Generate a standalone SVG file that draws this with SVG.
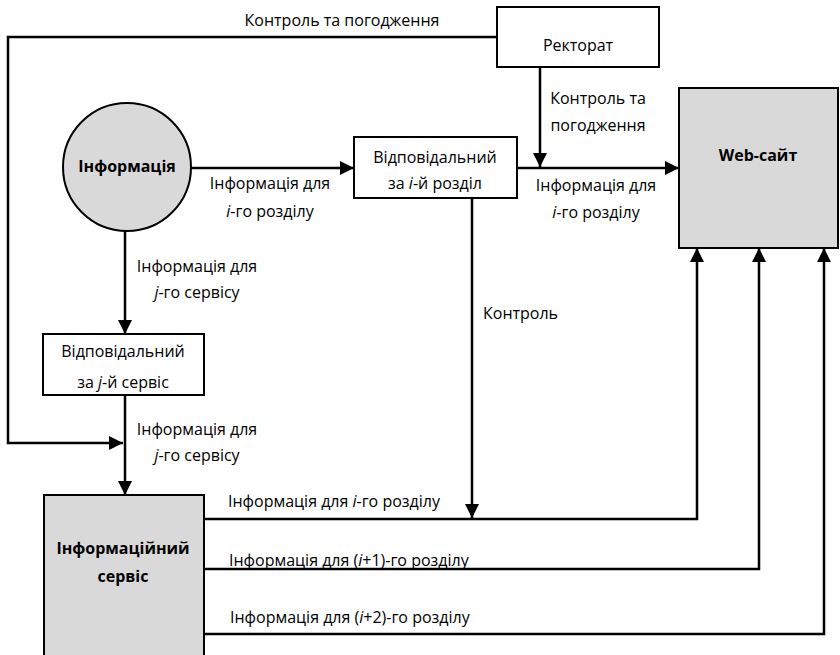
<svg xmlns="http://www.w3.org/2000/svg" width="840" height="655" viewBox="0 0 840 655">
<style>
text{font-family:"Open Sans","Noto Sans","DejaVu Sans",sans-serif;font-size:16px;fill:#000}
.b{font-weight:bold}
.m{text-anchor:middle}
.box{fill:#fff;stroke:#000;stroke-width:2}
.gray{fill:#d9d9d9;stroke:#000;stroke-width:2}
.ln{fill:none;stroke:#000;stroke-width:2.5}
</style>
<defs>
<marker id="ah" markerUnits="userSpaceOnUse" markerWidth="14" markerHeight="14" viewBox="0 0 14 14" refX="14" refY="7" orient="auto">
<path d="M0,0 L14,7 L0,14 Z" fill="#000"/>
</marker>
</defs>
<g id="connectors">
<path class="ln" d="M497,37 H8 V443 H123" marker-end="url(#ah)"/>
<path class="ln" d="M540,67 V167" marker-end="url(#ah)"/>
<path class="ln" d="M191,168 H354" marker-end="url(#ah)"/>
<path class="ln" d="M517,168 H679" marker-end="url(#ah)"/>
<path class="ln" d="M125,231 V334" marker-end="url(#ah)"/>
<path class="ln" d="M125,395 V495" marker-end="url(#ah)"/>
<path class="ln" d="M472,198 V518" marker-end="url(#ah)"/>
<path class="ln" d="M204,519 H697 V248" marker-end="url(#ah)"/>
<path class="ln" d="M204,569 H759 V248" marker-end="url(#ah)"/>
<path class="ln" d="M204,634 H824 V248" marker-end="url(#ah)"/>
</g>
<g id="labels">
<text x="342" y="26" class="m">Контроль та погодження</text>
<text x="598" y="104" class="m">Контроль та</text>
<text x="598" y="131" class="m">погодження</text>
<text x="270" y="189" class="m">Інформація для</text>
<text x="270" y="217" class="m"><tspan font-style="italic">i</tspan>-го розділу</text>
<text x="596" y="191" class="m">Інформація для</text>
<text x="596" y="218" class="m"><tspan font-style="italic">i</tspan>-го розділу</text>
<text x="197" y="272" class="m">Інформація для</text>
<text x="197" y="298" class="m"><tspan font-style="italic">j</tspan>-го сервісу</text>
<text x="483" y="319">Контроль</text>
<text x="197" y="435" class="m">Інформація для</text>
<text x="197" y="461" class="m"><tspan font-style="italic">j</tspan>-го сервісу</text>
<text x="228" y="507">Інформація для <tspan font-style="italic">i</tspan>-го розділу</text>
<text x="229" y="566">Інформація для (<tspan font-style="italic">i</tspan>+1)-го розділу</text>
<text x="230" y="623">Інформація для (<tspan font-style="italic">i</tspan>+2)-го розділу</text>
</g>
<g id="rectorat">
<rect class="box" x="497" y="7" width="162" height="60"/>
<text x="578" y="51" class="m">Ректорат</text>
</g>
<g id="informatsiia">
<circle class="gray" cx="127" cy="167" r="64"/>
<text x="127" y="172" class="m b">Інформація</text>
</g>
<g id="vidp-rozdil">
<rect class="box" x="354" y="137" width="163" height="61"/>
<text x="435" y="163" class="m">Відповідальний</text>
<text x="435" y="189" class="m">за <tspan font-style="italic">i</tspan>-й розділ</text>
</g>
<g id="website">
<rect class="gray" x="679" y="88" width="159" height="160"/>
<text x="758" y="161" class="m b">Web-сайт</text>
</g>
<g id="vidp-servis">
<rect class="box" x="43" y="334" width="161" height="61"/>
<text x="123" y="357" class="m">Відповідальний</text>
<text x="123" y="388" class="m">за <tspan font-style="italic">j</tspan>-й сервіс</text>
</g>
<g id="info-servis">
<rect class="gray" x="44" y="495" width="160" height="170"/>
<text x="123" y="554" class="m b">Інформаційний</text>
<text x="123" y="582" class="m b">сервіс</text>
</g>
</svg>
